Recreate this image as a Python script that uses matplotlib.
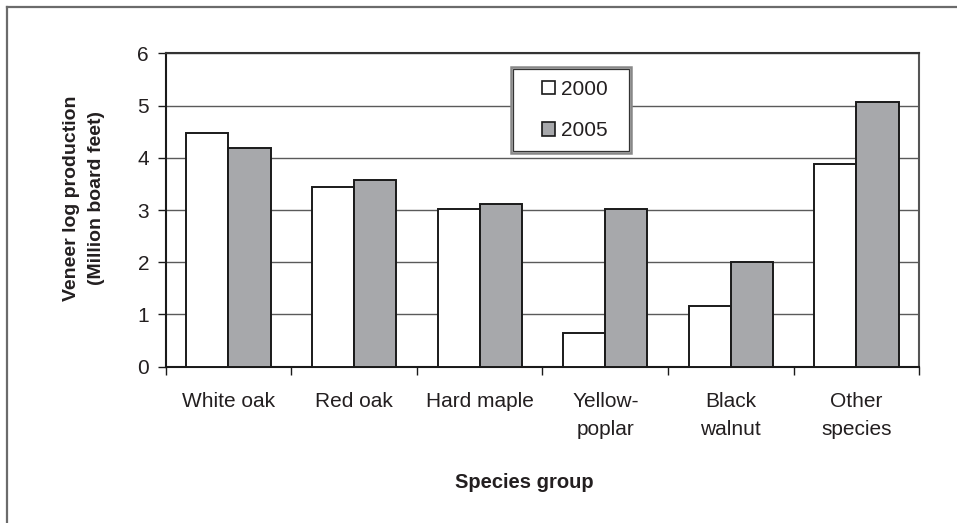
import matplotlib
matplotlib.use("Agg")
import matplotlib.pyplot as plt
from matplotlib.patches import Rectangle
from matplotlib.lines import Line2D
import numpy as np

categories = ["White oak", "Red oak", "Hard maple", "Yellow-\npoplar", "Black\nwalnut", "Other\nspecies"]
values_2000 = [4.48, 3.44, 3.02, 0.65, 1.17, 3.89]
values_2005 = [4.18, 3.57, 3.11, 3.01, 2.01, 5.06]
series_names = ["2000", "2005"]
y_ticks = [0, 1, 2, 3, 4, 5, 6]

plt.rcParams['font.family'] = ['Liberation Sans', 'DejaVu Sans']
TXT = '#231f20'

fig = plt.figure(figsize=(9.57, 5.23), dpi=100)
W, H = 957, 523
ax = fig.add_axes([165.7 / W, 1 - 366.7 / H, (919.3 - 165.7) / W, (366.7 - 53.3) / H])

x = np.arange(len(categories))
bw = 0.335
ax.bar(x - bw / 2, values_2000, width=bw, color='white', edgecolor='#1a1a1a', linewidth=1.4, zorder=3, label=series_names[0])
ax.bar(x + bw / 2, values_2005, width=bw, color='#a7a8ab', edgecolor='#1a1a1a', linewidth=1.4, zorder=3, label=series_names[1])

ax.set_xlim(-0.5, len(categories) - 0.5)
ax.set_ylim(0, 6)
ax.set_yticks(y_ticks)
ax.yaxis.grid(True, color='#5a5a5a', linewidth=1.0, zorder=0)
ax.set_axisbelow(True)

ax.set_xticks(x)
ax.set_xticklabels(categories, fontsize=15, color=TXT, linespacing=1.6)
ax.set_xticks(np.arange(-0.5, len(categories), 1.0), minor=True)
ax.tick_params(axis='x', which='major', length=0, pad=18)
ax.tick_params(axis='x', which='minor', length=6, width=1, color='#1a1a1a', direction='out')
ax.tick_params(axis='y', length=6, width=1, color='#1a1a1a', direction='out', pad=6, labelsize=15, labelcolor=TXT)

for s in ['left', 'bottom']:
    ax.spines[s].set_color('#1a1a1a')
    ax.spines[s].set_linewidth(1.5)
ax.spines['top'].set_color('#333333')
ax.spines['top'].set_linewidth(1.5)
ax.spines['right'].set_color('#555555')
ax.spines['right'].set_linewidth(1.5)

# legend box (Excel-style double border)
lx0, ly0, lx1, ly1 = 511, 66.7, 630.7, 153.3
fig.patches.append(Rectangle((lx0 / W, 1 - ly1 / H), (lx1 - lx0) / W, (ly1 - ly0) / H,
                             transform=fig.transFigure, facecolor='white', edgecolor='#888888', linewidth=1.8, zorder=5))
fig.patches.append(Rectangle(((lx0 + 2) / W, 1 - (ly1 - 2) / H), (lx1 - lx0 - 4) / W, (ly1 - ly0 - 4) / H,
                             transform=fig.transFigure, facecolor='white', edgecolor='#333333', linewidth=0.9, zorder=6))
handles = [Rectangle((0, 0), 1, 1, facecolor='white', edgecolor='#1a1a1a', linewidth=1.2),
           Rectangle((0, 0), 1, 1, facecolor='#a7a8ab', edgecolor='#1a1a1a', linewidth=1.2)]
leg = fig.legend(handles, series_names, loc='center', bbox_to_anchor=(575 / W, 1 - 110 / H),
                 frameon=False, fontsize=15, handlelength=0.6, handleheight=0.6, handletextpad=0.3,
                 labelspacing=1.1, borderpad=0.0)
leg.set_zorder(7)
for t in leg.get_texts():
    t.set_color(TXT)

fig.text(84 / W, 1 - 198 / H, "Veneer log production\n(Million board feet)", rotation=90, ha='center', va='center',
         fontsize=14, fontweight='bold', color=TXT, linespacing=1.6)
fig.text(524 / W, 1 - 482 / H, "Species group", ha='center', va='center', fontsize=14.5, fontweight='bold', color=TXT)

# outer frame (top and left edges)
fig.add_artist(Line2D([7 / W, 7 / W], [0, 1 - 7 / H], transform=fig.transFigure, color='#6b6b6b', linewidth=1.6))
fig.add_artist(Line2D([7 / W, 1], [1 - 7 / H, 1 - 7 / H], transform=fig.transFigure, color='#6b6b6b', linewidth=1.6))

fig.savefig("out.png", dpi=100)
